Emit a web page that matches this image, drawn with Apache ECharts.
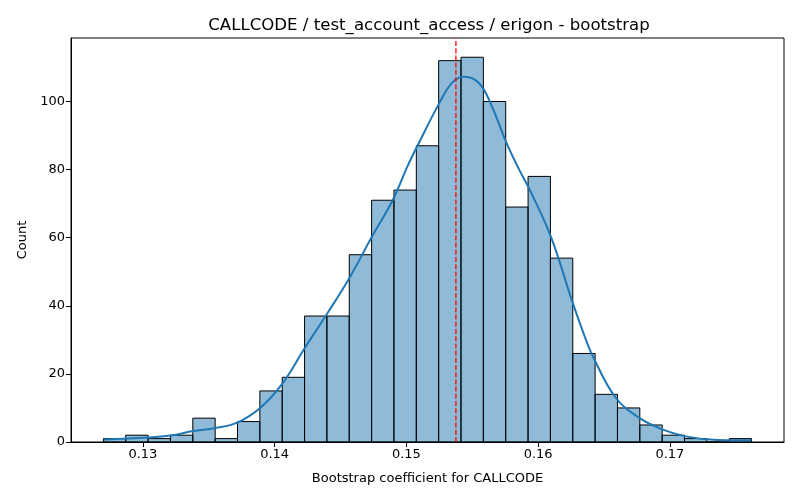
<!DOCTYPE html>
<html>
<head>
<meta charset="utf-8">
<script src="https://cdn.jsdelivr.net/npm/echarts@6/dist/echarts.min.js"></script>
<style>
html, body { margin: 0; padding: 0; background: #fff; }
#main { width: 800px; height: 500px; }
</style>
</head>
<body>
<div id="main"></div>
<script>
// histogram bins (count per bin)
var binStart = 0.127006;
var binWidth = 0.0016963;
var counts = [1, 2, 1, 2, 7, 1, 6, 15, 19, 37, 37, 55, 71, 74, 87, 112, 113, 100, 69, 78, 54, 26, 14, 10, 5, 2, 1, 0, 1];

// kde curve
var kdeX = [0.12703, 0.13043, 0.13210, 0.13383, 0.13550, 0.13716, 0.13890, 0.14056, 0.14230, 0.14397,
            0.14571, 0.14737, 0.14896, 0.15009, 0.15100, 0.15251, 0.15351, 0.15440, 0.15554, 0.15652,
            0.15758, 0.15856, 0.15932, 0.16098, 0.16257, 0.16363, 0.16423, 0.16589, 0.16771, 0.16937,
            0.17104, 0.17278, 0.17444, 0.17618];
var kdeY = [0.7, 1.3, 1.9, 3.2, 4.1, 5.7, 10, 17, 27.7, 37.6,
            48.4, 60.2, 71, 81, 88.2, 99.6, 105.7, 107.3, 105.3, 98.3,
            88, 80, 74.4, 60.2, 41.5, 30, 24.5, 13, 7, 3.8,
            1.8, 0.8, 0.5, 0.5];

var meanValue = 0.15376;
var xTicks = [0.13, 0.14, 0.15, 0.16, 0.17];
var yTicks = [0, 20, 40, 60, 80, 100];
var yMax = 118.65;

var bins = [];
for (var i = 0; i < counts.length; i++) {
	var a = binStart + i * binWidth;
	bins.push([a, a + binWidth, counts[i]]);
}
var kdeData = [];
for (var j = 0; j < kdeX.length; j++) {
	kdeData.push([kdeX[j], kdeY[j]]);
}

var myChart = echarts.init(document.getElementById('main'));
var font = 'DejaVu Sans';

var option = {
	backgroundColor: '#fff',
	animation: false,
	title: {
		text: 'CALLCODE / test_account_access / erigon - bootstrap',
		left: 424,
		top: 12,
		textAlign: 'center',
		textStyle: { fontFamily: font, fontSize: 16.6, fontWeight: 'normal', color: '#000' }
	},
	grid: {
		left: 71, right: 16, top: 38, bottom: 58,
		show: true, borderColor: '#000', borderWidth: 1
	},
	xAxis: {
		type: 'value',
		min: 0.124546,
		max: 0.17866,
		name: 'Bootstrap coefficient for CALLCODE',
		nameLocation: 'middle',
		nameGap: 30,
		nameTextStyle: { fontFamily: font, fontSize: 13, color: '#000' },
		splitLine: { show: false },
		axisLine: { onZero: false, lineStyle: { color: '#000', width: 1 } },
		axisTick: { show: true, length: 5, lineStyle: { color: '#000' }, customValues: xTicks },
		axisLabel: {
			fontFamily: font, fontSize: 13, color: '#000', margin: 6,
			customValues: xTicks,
			formatter: function (v) { return v.toFixed(2); }
		}
	},
	yAxis: {
		type: 'value',
		min: 0,
		max: yMax,
		name: 'Count',
		nameLocation: 'middle',
		nameGap: 42,
		nameTextStyle: { fontFamily: font, fontSize: 13, color: '#000' },
		splitLine: { show: false },
		axisLine: { show: true, lineStyle: { color: '#000', width: 1 } },
		axisTick: { show: true, length: 5, lineStyle: { color: '#000' }, customValues: yTicks },
		axisLabel: { fontFamily: font, fontSize: 13, color: '#000', margin: 6, customValues: yTicks }
	},
	series: [
		{
			type: 'custom',
			data: bins,
			encode: { x: [0, 1], y: 2 },
			renderItem: function (params, api) {
				var p0 = api.coord([api.value(0), 0]);
				var p1 = api.coord([api.value(1), api.value(2)]);
				return {
					type: 'rect',
					shape: { x: p0[0], y: p1[1], width: p1[0] - p0[0], height: p0[1] - p1[1] },
					style: { fill: 'rgba(31,119,180,0.5)', stroke: '#000', lineWidth: 1 }
				};
			},
			z: 2
		},
		{
			type: 'line',
			data: kdeData,
			smooth: 0.4,
			showSymbol: false,
			lineStyle: { color: '#1f77b4', width: 2 },
			z: 3
		},
		{
			// mean line
			type: 'line',
			data: [[meanValue, 0], [meanValue, yMax]],
			showSymbol: false,
			lineStyle: { color: '#ff0000', type: [5, 2.2], width: 1.3, opacity: 1 },
			z: 4
		}
	]
};
myChart.setOption(option);
</script>
</body>
</html>
